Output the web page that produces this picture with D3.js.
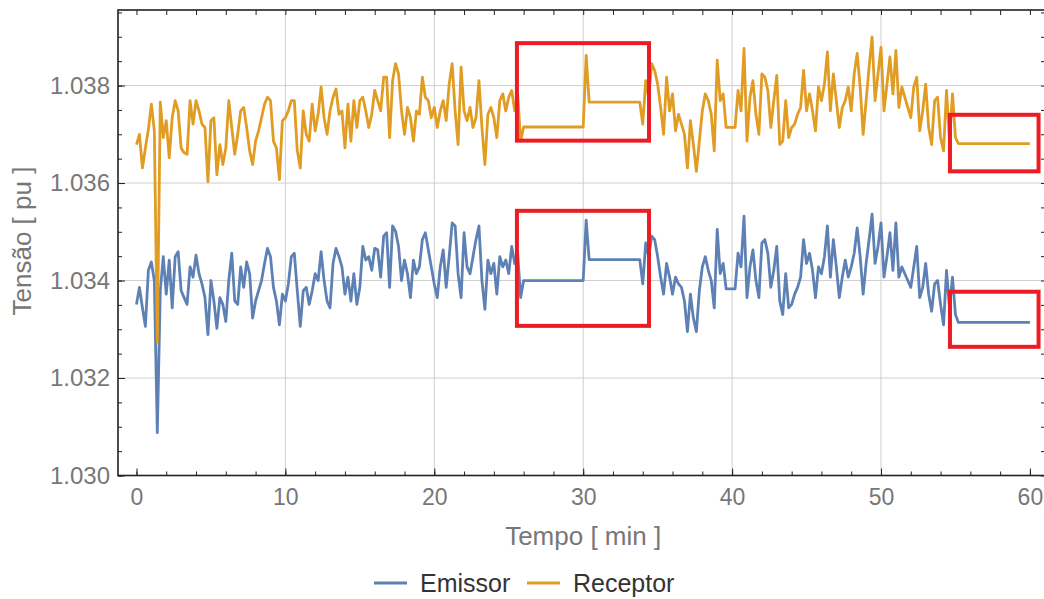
<!DOCTYPE html>
<html>
<head>
<meta charset="utf-8">
<script src="https://cdn.jsdelivr.net/npm/d3@7"></script>
<style>
  body { margin: 0; background: #fff; }
  svg { display: block; font-family: "Liberation Sans", Arial, sans-serif; }
</style>
</head>
<body>
<svg id="chart" width="1044" height="599"></svg>
<script>
// samples every 0.2 min, starting at t = 0
const passo = 0.2

// Tensão [pu], 10 samples (2 min) per line
const emissor = [
  1.03351, 1.03386, 1.03344, 1.03306, 1.03421, 1.03438, 1.03400, 1.03088, 1.03379, 1.03449,
  1.03372, 1.03442, 1.03344, 1.03449, 1.03459, 1.03379, 1.03365, 1.03351, 1.03428, 1.03407,
  1.03452, 1.03414, 1.03393, 1.03365, 1.03289, 1.03400, 1.03358, 1.03302, 1.03365, 1.03351,
  1.03316, 1.03400, 1.03456, 1.03358, 1.03351, 1.03428, 1.03386, 1.03438, 1.03414, 1.03323,
  1.03358, 1.03379, 1.03400, 1.03435, 1.03466, 1.03449, 1.03386, 1.03358, 1.03309, 1.03372,
  1.03358, 1.03393, 1.03449, 1.03456, 1.03379, 1.03306, 1.03379, 1.03386, 1.03351, 1.03379,
  1.03414, 1.03400, 1.03459, 1.03400, 1.03358, 1.03344, 1.03435, 1.03466, 1.03449, 1.03428,
  1.03372, 1.03407, 1.03358, 1.03414, 1.03351, 1.03386, 1.03470, 1.03442, 1.03449, 1.03421,
  1.03466, 1.03463, 1.03407, 1.03491, 1.03498, 1.03386, 1.03512, 1.03501, 1.03470, 1.03400,
  1.03442, 1.03414, 1.03365, 1.03442, 1.03414, 1.03428, 1.03484, 1.03498, 1.03463, 1.03428,
  1.03393, 1.03365, 1.03428, 1.03463, 1.03386, 1.03449, 1.03518, 1.03512, 1.03414, 1.03365,
  1.03498, 1.03428, 1.03414, 1.03449, 1.03484, 1.03512, 1.03400, 1.03341, 1.03442, 1.03414,
  1.03435, 1.03372, 1.03449, 1.03428, 1.03442, 1.03414, 1.03470, 1.03435, 1.03456, 1.03365,
  1.03400, 1.03400, 1.03400, 1.03400, 1.03400, 1.03400, 1.03400, 1.03400, 1.03400, 1.03400,
  1.03400, 1.03400, 1.03400, 1.03400, 1.03400, 1.03400, 1.03400, 1.03400, 1.03400, 1.03400,
  1.03400, 1.03524, 1.03443, 1.03443, 1.03443, 1.03443, 1.03443, 1.03443, 1.03443, 1.03443,
  1.03443, 1.03443, 1.03443, 1.03443, 1.03443, 1.03443, 1.03443, 1.03443, 1.03443, 1.03443,
  1.03393, 1.03477, 1.03449, 1.03491, 1.03484, 1.03449, 1.03407, 1.03372, 1.03435, 1.03407,
  1.03372, 1.03407, 1.03393, 1.03386, 1.03358, 1.03295, 1.03372, 1.03323, 1.03295, 1.03379,
  1.03428, 1.03449, 1.03421, 1.03400, 1.03344, 1.03505, 1.03414, 1.03435, 1.03383, 1.03383,
  1.03383, 1.03383, 1.03456, 1.03428, 1.03532, 1.03365, 1.03428, 1.03463, 1.03400, 1.03365,
  1.03477, 1.03484, 1.03456, 1.03386, 1.03421, 1.03470, 1.03358, 1.03330, 1.03414, 1.03344,
  1.03351, 1.03372, 1.03386, 1.03407, 1.03484, 1.03435, 1.03456, 1.03421, 1.03365, 1.03428,
  1.03414, 1.03449, 1.03512, 1.03407, 1.03484, 1.03428, 1.03365, 1.03407, 1.03442, 1.03407,
  1.03428, 1.03456, 1.03508, 1.03449, 1.03372, 1.03435, 1.03484, 1.03536, 1.03435, 1.03470,
  1.03518, 1.03407, 1.03449, 1.03498, 1.03421, 1.03518, 1.03407, 1.03428, 1.03414, 1.03400,
  1.03386, 1.03428, 1.03470, 1.03365, 1.03386, 1.03435, 1.03372, 1.03337, 1.03393, 1.03400,
  1.03351, 1.03309, 1.03421, 1.03344, 1.03407, 1.03330, 1.03314, 1.03314, 1.03314, 1.03314,
  1.03314, 1.03314, 1.03314, 1.03314, 1.03314, 1.03314, 1.03314, 1.03314, 1.03314, 1.03314,
  1.03314, 1.03314, 1.03314, 1.03314, 1.03314, 1.03314, 1.03314, 1.03314, 1.03314, 1.03314,
  1.03314
]

const receptor = [
  1.03679, 1.03700, 1.03631, 1.03672, 1.03710, 1.03762, 1.03707, 1.03274, 1.03766, 1.03693,
  1.03728, 1.03652, 1.03734, 1.03769, 1.03748, 1.03672, 1.03662, 1.03659, 1.03769, 1.03721,
  1.03769, 1.03748, 1.03721, 1.03714, 1.03603, 1.03728, 1.03734, 1.03617, 1.03679, 1.03638,
  1.03672, 1.03769, 1.03714, 1.03659, 1.03700, 1.03748, 1.03755, 1.03714, 1.03666, 1.03638,
  1.03686, 1.03707, 1.03734, 1.03762, 1.03776, 1.03769, 1.03686, 1.03672, 1.03607, 1.03728,
  1.03734, 1.03748, 1.03769, 1.03769, 1.03666, 1.03631, 1.03748, 1.03700, 1.03686, 1.03762,
  1.03707, 1.03741, 1.03797, 1.03734, 1.03700, 1.03748, 1.03776, 1.03793, 1.03741, 1.03748,
  1.03672, 1.03762, 1.03686, 1.03769, 1.03714, 1.03769, 1.03776, 1.03748, 1.03714, 1.03741,
  1.03790, 1.03769, 1.03748, 1.03817, 1.03817, 1.03693, 1.03810, 1.03845, 1.03824, 1.03748,
  1.03700, 1.03755, 1.03734, 1.03686, 1.03748, 1.03741, 1.03817, 1.03776, 1.03769, 1.03734,
  1.03755, 1.03714, 1.03748, 1.03769, 1.03728, 1.03803, 1.03845, 1.03748, 1.03679, 1.03838,
  1.03748, 1.03728, 1.03755, 1.03714, 1.03734, 1.03810, 1.03714, 1.03638, 1.03741, 1.03755,
  1.03734, 1.03693, 1.03769, 1.03783, 1.03748, 1.03776, 1.03790, 1.03748, 1.03783, 1.03686,
  1.03715, 1.03715, 1.03715, 1.03715, 1.03715, 1.03715, 1.03715, 1.03715, 1.03715, 1.03715,
  1.03715, 1.03715, 1.03715, 1.03715, 1.03715, 1.03715, 1.03715, 1.03715, 1.03715, 1.03715,
  1.03715, 1.03862, 1.03766, 1.03766, 1.03766, 1.03766, 1.03766, 1.03766, 1.03766, 1.03766,
  1.03766, 1.03766, 1.03766, 1.03766, 1.03766, 1.03766, 1.03766, 1.03766, 1.03766, 1.03766,
  1.03721, 1.03810, 1.03776, 1.03845, 1.03831, 1.03803, 1.03755, 1.03700, 1.03817, 1.03748,
  1.03783, 1.03707, 1.03741, 1.03721, 1.03700, 1.03631, 1.03728, 1.03679, 1.03624, 1.03686,
  1.03748, 1.03783, 1.03769, 1.03741, 1.03666, 1.03852, 1.03769, 1.03783, 1.03714, 1.03714,
  1.03714, 1.03714, 1.03790, 1.03748, 1.03876, 1.03686, 1.03776, 1.03810, 1.03741, 1.03700,
  1.03824, 1.03817, 1.03790, 1.03714, 1.03769, 1.03821, 1.03679, 1.03686, 1.03769, 1.03693,
  1.03714, 1.03721, 1.03741, 1.03755, 1.03831, 1.03748, 1.03783, 1.03748, 1.03707, 1.03797,
  1.03769, 1.03803, 1.03869, 1.03748, 1.03824, 1.03769, 1.03714, 1.03755, 1.03769, 1.03797,
  1.03748, 1.03824, 1.03866, 1.03797, 1.03700, 1.03769, 1.03838, 1.03900, 1.03769, 1.03824,
  1.03879, 1.03748, 1.03803, 1.03859, 1.03783, 1.03872, 1.03755, 1.03797, 1.03776, 1.03755,
  1.03734, 1.03797, 1.03817, 1.03707, 1.03748, 1.03803, 1.03714, 1.03679, 1.03769, 1.03776,
  1.03693, 1.03666, 1.03790, 1.03686, 1.03783, 1.03693, 1.03681, 1.03681, 1.03681, 1.03681,
  1.03681, 1.03681, 1.03681, 1.03681, 1.03681, 1.03681, 1.03681, 1.03681, 1.03681, 1.03681,
  1.03681, 1.03681, 1.03681, 1.03681, 1.03681, 1.03681, 1.03681, 1.03681, 1.03681, 1.03681,
  1.03681
]

const nomes = ['Emissor', 'Receptor']
const xTicks = [0, 10, 20, 30, 40, 50, 60]
const yTicks = [1.030, 1.032, 1.034, 1.036, 1.038]

// red highlight boxes: [t inicio, t fim, tensão min, tensão max]
const destaques = [
  [25.55, 34.42, 1.03687, 1.03887],
  [25.55, 34.42, 1.03307, 1.03543],
  [54.63, 60.58, 1.03624, 1.03740],
  [54.63, 60.58, 1.03264, 1.03377]
]

const svg = d3.select('#chart')
const margin = {top: 10, right: -2, bottom: 123.5, left: 118}
const width = +svg.attr('width')
const height = +svg.attr('height')

const x = d3.scaleLinear().domain([-1.24, 61.08])
  .range([margin.left, width - margin.right])
const y = d3.scaleLinear().domain([1.030, 1.03955])
  .range([height - margin.bottom, margin.top])
const cor = d3.scaleOrdinal(nomes, ['#5e81b5', '#e19c24'])

svg.append('rect').attr('width', width).attr('height', height).attr('fill', '#fff')

// grid
svg.append('g').selectAll('line')
  .data(xTicks.filter(d => d > 0 && d < 60))
  .join('line')
  .attr('x1', d => x(d)).attr('x2', d => x(d))
  .attr('y1', y.range()[0]).attr('y2', y.range()[1])
  .attr('stroke', '#cfcfcf').attr('stroke-width', 1)
svg.append('g').selectAll('line')
  .data(yTicks.slice(1))
  .join('line')
  .attr('x1', x.range()[0]).attr('x2', x.range()[1])
  .attr('y1', d => y(d)).attr('y2', d => y(d))
  .attr('stroke', '#cfcfcf').attr('stroke-width', 1)

// series
const linha = d3.line()
  .x((d, i) => x(i * passo))
  .y(d => y(d))

svg.append('g').selectAll('path')
  .data([emissor, receptor])
  .join('path')
  .attr('d', linha)
  .attr('fill', 'none')
  .attr('stroke', (d, i) => cor(nomes[i]))
  .attr('stroke-width', 2.8)
  .attr('stroke-linejoin', 'round')

// frame with inward ticks
const h0 = y.range()[0], h1 = y.range()[1]
const xMinor = d3.range(0, 61, 2)
const yMinor = d3.range(1.030, 1.0395, 0.0005)

function estilo(size) {
  return g => {
    g.select('.domain').remove()
    g.selectAll('line').attr('stroke', '#222')
    g.selectAll('text').attr('fill', '#777').style('font-size', size)
  }
}

svg.append('g').attr('transform', `translate(0,${h0})`)
  .call(d3.axisBottom(x).tickValues(xMinor).tickFormat('').tickSize(-4))
  .call(estilo('23px'))
svg.append('g').attr('transform', `translate(0,${h0})`)
  .call(d3.axisBottom(x).tickValues(xTicks).tickSize(-7).tickPadding(13))
  .call(estilo('23px'))
svg.append('g').attr('transform', `translate(0,${h1})`)
  .call(d3.axisTop(x).tickValues(xMinor).tickFormat('').tickSize(-5))
  .call(estilo('23px'))
svg.append('g').attr('transform', `translate(${x.range()[0]},0)`)
  .call(d3.axisLeft(y).tickValues(yMinor).tickFormat('').tickSize(-4))
  .call(estilo('24px'))
svg.append('g').attr('transform', `translate(${x.range()[0]},0)`)
  .call(d3.axisLeft(y).tickValues(yTicks).tickFormat(d3.format('.3f')).tickSize(-7).tickPadding(8))
  .call(estilo('24px'))
svg.append('g').attr('transform', `translate(${x.range()[1]},0)`)
  .call(d3.axisRight(y).tickValues(yMinor).tickFormat('').tickSize(-5))
  .call(estilo('24px'))

svg.append('rect')
  .attr('x', x.range()[0]).attr('y', h1)
  .attr('width', x.range()[1] - x.range()[0]).attr('height', h0 - h1)
  .attr('fill', 'none').attr('stroke', '#222').attr('stroke-width', 1.6)

// red boxes
svg.append('g').selectAll('rect')
  .data(destaques)
  .join('rect')
  .attr('x', d => x(d[0])).attr('width', d => x(d[1]) - x(d[0]))
  .attr('y', d => y(d[3])).attr('height', d => y(d[2]) - y(d[3]))
  .attr('fill', 'none').attr('stroke', '#ec1c24').attr('stroke-width', 4)

// axis titles
svg.append('text')
  .attr('x', (x(0) + x(60)) / 2).attr('y', 545)
  .attr('text-anchor', 'middle').attr('fill', '#777')
  .style('font-size', '26px')
  .text('Tempo [ min ]')
svg.append('text')
  .attr('transform', `translate(31,${y(1.03481)}) rotate(-90)`)
  .attr('text-anchor', 'middle').attr('fill', '#777')
  .style('font-size', '26px')
  .text('Tensão [ pu ]')

// legend
const leg = svg.append('g').attr('transform', 'translate(374,583)')
const item = leg.selectAll('g').data(nomes).join('g')
  .attr('transform', (d, i) => `translate(${i * 153},0)`)
item.append('line').attr('x1', 0).attr('x2', 33)
  .attr('stroke', d => cor(d)).attr('stroke-width', 2.8)
item.append('text').attr('x', 46).attr('dy', '0.35em')
  .attr('fill', '#333').style('font-size', '25px')
  .text(d => d)
</script>
</body>
</html>
